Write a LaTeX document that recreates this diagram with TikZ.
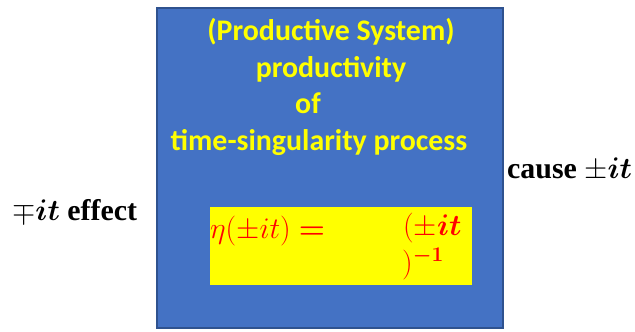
\RequirePackage{fix-cm}
\documentclass[tikz,border=0pt]{standalone}
\usepackage{amsmath}
\usepackage{fontspec}
\setmainfont{Liberation Serif}
\newfontfamily\calfont{Carlito}
\usepackage{tikz}
\usetikzlibrary{positioning}
\usepackage{xcolor}
\definecolor{boxblue}{HTML}{4472C4}
\definecolor{edgeblue}{HTML}{2F528F}
\definecolor{hiyellow}{HTML}{FFFF00}
\definecolor{eqred}{HTML}{FF0000}

\tikzset{
  sysbox/.style={draw=edgeblue, line width=2.5bp, fill=boxblue, inner sep=0pt},
  eqbox/.style={fill=hiyellow, inner sep=0pt},
  sysline/.style={anchor=base, inner sep=0pt, text=hiyellow,
    font=\calfont\bfseries\fontsize{30}{36}\selectfont},
  eqtext/.style={anchor=base west, inner sep=0pt, text=eqred,
    font=\fontsize{30}{35}\selectfont},
  sidetext/.style={anchor=base west, inner sep=0pt,
    font=\bfseries\fontsize{30}{35}\selectfont}
}

\begin{document}
\begin{tikzpicture}[x=1bp, y=-1bp]
        \useasboundingbox (0,0) rectangle (635,331);

        % Productive system box
        \node[sysbox, minimum width=346bp, minimum height=320bp] (sys) at (330,168) {};
        \node[sysline] (title) at (331,40) {(Productive System)};
        \node[sysline] (prod) at (331,77) {productivity};
        \node[sysline] (of) at (308,113) {of};
        \node[sysline] (proc) at (319,150) {time-singularity process};

        % Formula on yellow
        \node[eqbox, minimum width=262bp, minimum height=78bp] (eq) at (341,246) {};
        \node[eqtext] (lhs) at (210,238) {$\eta(\pm it) \mathrel{\boldsymbol{=}}$};
        \node[eqtext] (rhs) at (403,235) {$(\pm\boldsymbol{it}$};
        \node[eqtext] (inv) at (402,272) {$)^{\boldsymbol{-1}}$};

        % Side labels
        \node[sidetext] (effect) at (12,220) {$\mp\boldsymbol{it}$ effect};
        \node[sidetext] (cause) at (507,178) {cause $\pm\boldsymbol{it}$};
    \end{tikzpicture}
\end{document}
